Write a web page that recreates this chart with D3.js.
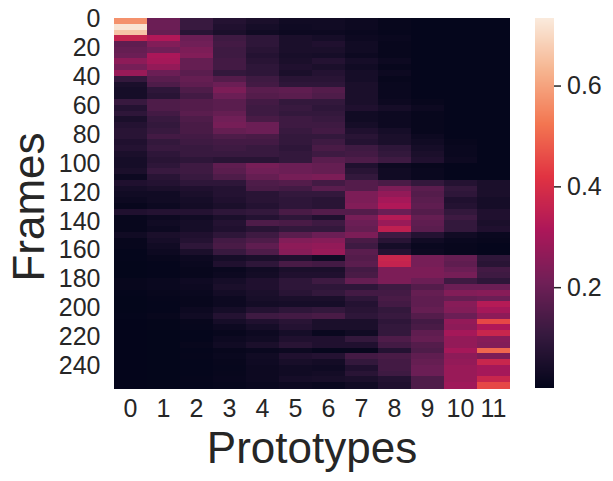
<!DOCTYPE html>
<html><head><meta charset="utf-8">
<script src="https://d3js.org/d3.v7.min.js"></script>
<style>html,body{margin:0;background:#fff}svg{display:block}text{font-family:"Liberation Sans",Arial,sans-serif;fill:#262626}</style>
</head><body><svg id="c" width="613" height="481"></svg>
<script>
const prototypes=[0,1,2,3,4,5,6,7,8,9,10,11];
const frameTicks=[0,20,40,60,80,100,120,140,160,180,200,220,240];
const colorTicks=[0.2,0.4,0.6];
const frameCount=256, framesPerRow=4;
const rocketStops=["#03051a","#35193e","#701f57","#ad1759","#e13342","#f37651","#f6b48f","#faebdd"];
// each row: mean activation of prototypes 0..11 for 4 consecutive frames
const values=[
[.57,.2,.11,.07,.05,.03,.03,.02,.01,.005,.005,.005],
[.72,.2,.11,.06,.04,.025,.03,.02,.01,.005,.005,.005],
[.66,.19,.08,.05,.03,.02,.02,.015,.008,.005,.005,.005],
[.36,.32,.2,.12,.09,.05,.04,.02,.015,.005,.005,.005],
[.18,.24,.21,.13,.09,.05,.06,.03,.01,.005,.005,.005],
[.19,.21,.23,.12,.08,.05,.05,.03,.01,.005,.005,.005],
[.2,.31,.24,.12,.07,.045,.04,.02,.01,.005,.005,.005],
[.26,.3,.19,.13,.08,.05,.07,.04,.02,.005,.005,.005],
[.22,.27,.19,.13,.09,.06,.05,.03,.01,.005,.005,.005],
[.28,.2,.17,.1,.09,.05,.07,.04,.02,.005,.005,.005],
[.1,.17,.19,.16,.12,.08,.08,.04,.01,.005,.005,.005],
[.05,.15,.18,.2,.13,.09,.09,.05,.015,.005,.005,.005],
[.04,.09,.15,.23,.17,.18,.16,.05,.015,.005,.005,.005],
[.04,.08,.13,.2,.16,.17,.15,.05,.015,.005,.005,.005],
[.11,.15,.16,.17,.13,.1,.1,.05,.02,.01,.005,.005],
[.07,.15,.16,.17,.12,.11,.09,.06,.04,.02,.005,.005],
[.09,.13,.17,.19,.12,.1,.1,.03,.02,.01,.005,.005],
[.05,.11,.15,.21,.14,.12,.11,.03,.02,.01,.005,.005],
[.07,.1,.14,.22,.2,.12,.12,.04,.02,.01,.005,.005],
[.08,.11,.14,.19,.2,.11,.13,.06,.04,.01,.005,.005],
[.08,.13,.13,.15,.14,.1,.1,.08,.05,.02,.005,.005],
[.06,.1,.12,.13,.13,.1,.12,.07,.05,.03,.01,.005],
[.07,.11,.11,.12,.11,.09,.14,.12,.09,.04,.015,.005],
[.05,.09,.11,.11,.11,.1,.12,.13,.1,.05,.015,.005],
[.04,.08,.09,.08,.08,.1,.17,.15,.12,.06,.02,.005],
[.04,.09,.12,.18,.22,.2,.19,.06,.02,.01,.005,.005],
[.05,.11,.12,.17,.21,.2,.19,.08,.03,.015,.005,.005],
[.02,.08,.11,.15,.19,.22,.23,.1,.03,.015,.005,.005],
[.06,.07,.09,.09,.15,.16,.13,.16,.14,.1,.07,.05],
[.04,.05,.06,.07,.14,.13,.17,.16,.23,.17,.1,.05],
[.03,.03,.05,.07,.08,.1,.1,.23,.27,.16,.09,.05],
[.02,.03,.04,.06,.08,.09,.08,.23,.3,.17,.06,.04],
[.01,.02,.035,.05,.07,.09,.08,.24,.32,.18,.07,.04],
[.06,.07,.07,.09,.1,.14,.16,.16,.2,.16,.1,.06],
[.01,.02,.03,.05,.07,.09,.06,.22,.33,.19,.12,.06],
[.01,.03,.04,.07,.15,.14,.12,.2,.28,.18,.1,.05],
[.01,.02,.04,.06,.08,.1,.1,.19,.35,.17,.1,.06],
[.03,.05,.06,.09,.12,.17,.2,.23,.12,.07,.03,.015],
[.01,.04,.07,.13,.15,.24,.25,.14,.08,.03,.015,.01],
[.01,.03,.09,.14,.18,.26,.27,.12,.04,.015,.01,.005],
[.005,.02,.05,.11,.15,.25,.28,.17,.07,.02,.01,.005],
[.005,.01,.02,.04,.05,.06,.03,.16,.37,.22,.19,.09],
[.003,.005,.015,.06,.09,.14,.13,.17,.36,.22,.18,.08],
[.003,.005,.01,.015,.03,.05,.05,.13,.23,.23,.2,.13],
[.003,.005,.01,.02,.035,.06,.06,.14,.23,.23,.22,.12],
[.01,.015,.025,.04,.06,.09,.12,.19,.23,.2,.12,.09],
[.01,.015,.02,.05,.06,.09,.09,.09,.12,.16,.2,.2],
[.005,.01,.015,.035,.05,.08,.1,.13,.13,.19,.24,.25],
[.003,.007,.01,.02,.045,.05,.05,.09,.14,.18,.19,.2],
[.003,.005,.01,.02,.035,.04,.04,.07,.13,.18,.25,.33],
[.003,.005,.02,.04,.07,.09,.1,.08,.1,.19,.24,.3],
[.005,.01,.03,.07,.12,.13,.14,.09,.11,.16,.2,.26],
[.002,.004,.01,.04,.06,.08,.05,.05,.09,.13,.27,.45],
[.002,.004,.008,.02,.04,.07,.05,.05,.1,.14,.26,.32],
[.002,.003,.005,.01,.02,.04,.015,.03,.1,.18,.3,.37],
[.002,.003,.005,.02,.03,.06,.06,.1,.15,.19,.27,.25],
[.002,.003,.01,.03,.05,.08,.06,.06,.13,.16,.27,.24],
[.002,.003,.005,.01,.015,.02,.008,.01,.07,.15,.3,.5],
[.002,.003,.006,.015,.03,.06,.07,.13,.14,.18,.26,.23],
[.002,.003,.005,.01,.025,.045,.035,.1,.13,.19,.27,.37],
[.002,.003,.005,.008,.02,.03,.025,.06,.13,.2,.28,.3],
[.002,.003,.005,.01,.02,.03,.035,.08,.12,.2,.28,.3],
[.002,.003,.006,.012,.02,.04,.045,.05,.07,.15,.28,.37],
[.002,.003,.005,.008,.015,.02,.015,.03,.06,.15,.29,.45]
];

const plot={left:114,right:510,top:18,bottom:388};
const bar={left:535,right:554};
const vmin=0, vmax=0.734;
const svg=d3.select("#c");
const color=d3.scaleLinear().domain(rocketStops.map((_,i)=>vmin+(vmax-vmin)*i/7)).range(rocketStops).interpolate(d3.interpolateRgb).clamp(true);
const x=d3.scaleBand().domain(prototypes).range([plot.left,plot.right]);
const y=d3.scaleLinear().domain([0,frameCount]).range([plot.top,plot.bottom]);

svg.append("g").attr("shape-rendering","crispEdges").selectAll("g").data(values).join("g").each(function(row,i){
  d3.select(this).selectAll("rect").data(row).join("rect")
    .attr("x",(d,j)=>x(prototypes[j]))
    .attr("width",x.bandwidth())
    .attr("y",y(i*framesPerRow))
    .attr("height",y(framesPerRow)-y(0)+0.5)
    .attr("fill",d=>color(d));
});

const axX=svg.append("g").attr("transform",`translate(0,${plot.bottom})`).call(d3.axisBottom(x).tickSize(0).tickPadding(11));
const axY=svg.append("g").attr("transform",`translate(${plot.left},0)`)
  .call(d3.axisLeft(y).tickValues(frameTicks.map(f=>f+0.5)).tickFormat(v=>String(v-0.5)).tickSize(0).tickPadding(13.5));
[axX,axY].forEach(a=>{a.select(".domain").remove();a.selectAll("text").attr("font-size",25).attr("font-family",null)});

const cY=d3.scaleLinear().domain([vmin,vmax]).range([plot.bottom,plot.top]);
const steps=d3.range(0,370);
svg.append("g").attr("shape-rendering","crispEdges").selectAll("rect").data(steps).join("rect")
  .attr("x",bar.left).attr("width",bar.right-bar.left)
  .attr("y",s=>plot.bottom-s-1).attr("height",1)
  .attr("fill",s=>color(cY.invert(plot.bottom-s-0.5)));
const axC=svg.append("g").attr("transform",`translate(${bar.right},0)`)
  .call(d3.axisRight(cY).tickValues(colorTicks).tickFormat(d3.format(".1f")).tickSize(7).tickPadding(6));
axC.select(".domain").remove();
axC.selectAll("line").attr("stroke","#262626").attr("stroke-width",1.5);
axC.selectAll("text").attr("font-size",25).attr("font-family",null);

svg.append("text").attr("x",(plot.left+plot.right)/2).attr("y",463.3).attr("text-anchor","middle").attr("font-size",44).text("Prototypes");
svg.append("text").attr("transform",`translate(44,207) rotate(-90)`).attr("text-anchor","middle").attr("font-size",44).text("Frames");
</script></body></html>
